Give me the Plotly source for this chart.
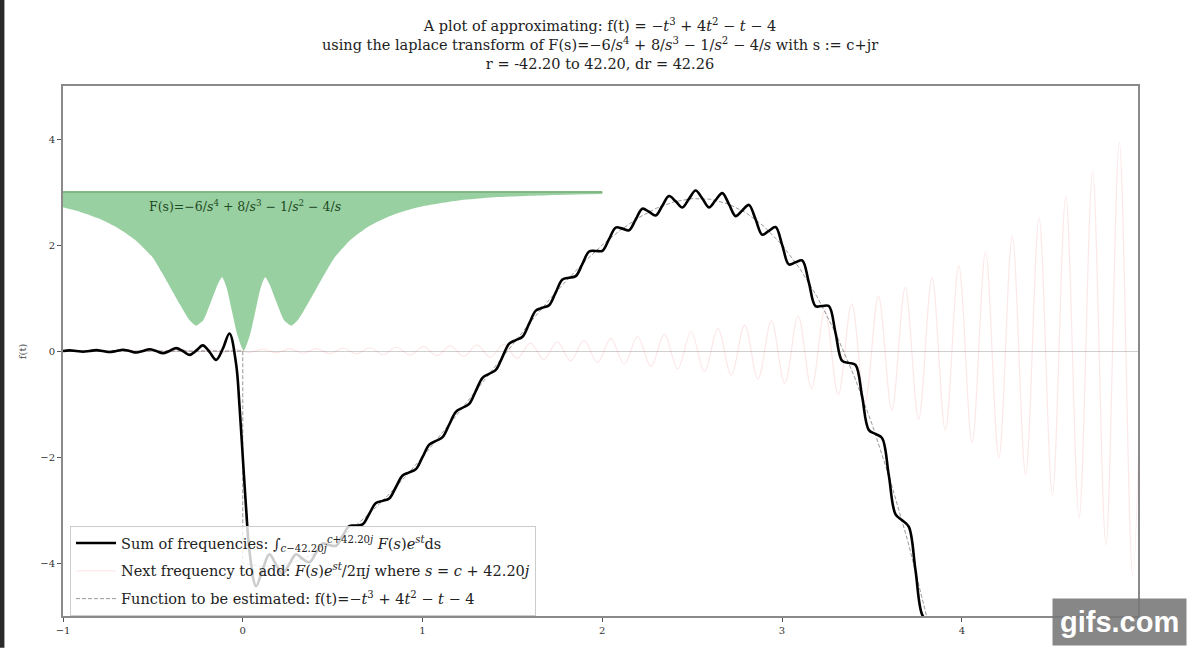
import plotly.graph_objects as go

# ---------------- data ----------------
# Sum of frequencies (black)
BLACK_T = [-1.0, -0.9632, -0.9262, -0.8891, -0.8521, -0.8150, -0.7780, -0.7409, -0.7039, -0.6668,
           -0.6298, -0.5928, -0.5557, -0.5187, -0.4816, -0.4446, -0.4075, -0.3705, -0.3334, -0.2964,
           -0.2593, -0.2223, -0.1852, -0.1482, -0.1111, -0.0741, -0.0370, -0.0185, 0.0, 0.0185,
           0.0370, 0.0741, 0.1111, 0.1482, 0.1852, 0.2223, 0.2593, 0.2964, 0.3334, 0.3705,
           0.4075, 0.4446, 0.4816, 0.5187, 0.5557, 0.5928, 0.6298, 0.6668, 0.7039, 0.7409,
           0.7780, 0.8150, 0.8521, 0.8891, 0.9262, 0.9632, 1.0003, 1.0373, 1.0744, 1.1114,
           1.1485, 1.1855, 1.2226, 1.2596, 1.2966, 1.3337, 1.3707, 1.4078, 1.4448, 1.4819,
           1.5189, 1.5560, 1.5930, 1.6301, 1.6671, 1.7042, 1.7412, 1.7783, 1.8153, 1.8524,
           1.8894, 1.9264, 1.9635, 2.0005, 2.0376, 2.0746, 2.1117, 2.1487, 2.1858, 2.2228,
           2.2599, 2.2969, 2.3340, 2.3710, 2.4081, 2.4451, 2.4821, 2.5192, 2.5562, 2.5933,
           2.6303, 2.6674, 2.7044, 2.7415, 2.7785, 2.8156, 2.8526, 2.8897, 2.9267, 2.9638,
           3.0008, 3.0379, 3.0749, 3.1119, 3.1490, 3.1860, 3.2231, 3.2601, 3.2972, 3.3342,
           3.3713, 3.4083, 3.4454, 3.4824, 3.5195, 3.5565, 3.5936, 3.6306, 3.6677, 3.7047,
           3.7417, 3.7788, 3.8158]
BLACK_Y = [0.0, 0.012, 0.0, -0.014, 0.0, 0.016, 0.0, -0.019, 0.0, 0.023,
           0.0, -0.028, 0.0, 0.034, 0.0, -0.043, 0.0, 0.055, 0.0, -0.074,
           0.007, 0.106, -0.016, -0.167, 0.042, 0.330, -0.246, -1.015, -2.0, -2.964,
           -3.767, -4.438, -4.116, -3.838, -4.031, -4.200, -4.018, -3.835, -3.924, -3.986,
           -3.808, -3.633, -3.661, -3.674, -3.485, -3.304, -3.294, -3.272, -3.070, -2.867,
           -2.828, -2.783, -2.566, -2.348, -2.290, -2.228, -1.999, -1.767, -1.697, -1.626,
           -1.387, -1.147, -1.071, -0.996, -0.752, -0.505, -0.430, -0.358, -0.110, 0.138,
           0.206, 0.269, 0.515, 0.762, 0.816, 0.865, 1.107, 1.349, 1.384, 1.412,
           1.645, 1.877, 1.888, 1.890, 2.110, 2.329, 2.309, 2.278, 2.482, 2.685,
           2.628, 2.557, 2.742, 2.924, 2.824, 2.708, 2.870, 3.029, 2.878, 2.710,
           2.846, 2.979, 2.772, 2.545, 2.652, 2.756, 2.485, 2.193, 2.267, 2.338,
           1.998, 1.633, 1.673, 1.710, 1.292, 0.847, 0.849, 0.849, 0.345, -0.187,
           -0.224, -0.263, -0.859, -1.489, -1.565, -1.644, -2.342, -3.077, -3.194, -3.314,
           -4.123, -4.971, -5.131]

# Next frequency to add (faint pink) - crests and troughs
PINK_T = [-1.005, -0.9306, -0.8561, -0.7817, -0.7072, -0.6328, -0.5583, -0.4839, -0.4094, -0.335,
          -0.2606, -0.1861, -0.1117, -0.0372, 0.0372, 0.1117, 0.1861, 0.2606, 0.335, 0.4094,
          0.4839, 0.5583, 0.6328, 0.7072, 0.7817, 0.8561, 0.9306, 1.005, 1.0794, 1.1539,
          1.2283, 1.3028, 1.3772, 1.4517, 1.5261, 1.6006, 1.675, 1.7494, 1.8239, 1.8983,
          1.9728, 2.0472, 2.1217, 2.1961, 2.2706, 2.345, 2.4194, 2.4939, 2.5683, 2.6428,
          2.7172, 2.7917, 2.8661, 2.9405, 3.015, 3.0894, 3.1639, 3.2383, 3.3128, 3.3872,
          3.4616, 3.5361, 3.6105, 3.685, 3.7594, 3.8339, 3.9083, 3.9828, 4.0572, 4.1317,
          4.2061, 4.2805, 4.355, 4.4294, 4.5039, 4.5783, 4.6528, 4.7272, 4.8016, 4.8761,
          4.9505, 5.025]
PINK_Y = [-0.011, 0.012, -0.013, 0.014, -0.015, 0.016, -0.017, 0.018, -0.020, 0.021,
          -0.023, 0.025, -0.027, 0.029, -0.031, 0.034, -0.036, 0.039, -0.042, 0.045,
          -0.049, 0.052, -0.056, 0.061, -0.066, 0.071, -0.076, 0.082, -0.088, 0.095,
          -0.102, 0.110, -0.119, 0.128, -0.138, 0.149, -0.160, 0.173, -0.186, 0.200,
          -0.216, 0.232, -0.250, 0.270, -0.291, 0.313, -0.337, 0.363, -0.391, 0.422,
          -0.454, 0.489, -0.527, 0.568, -0.612, 0.659, -0.710, 0.765, -0.824, 0.888,
          -0.956, 1.030, -1.110, 1.196, -1.288, 1.388, -1.495, 1.610, -1.735, 1.869,
          -2.013, 2.169, -2.337, 2.517, -2.712, 2.921, -3.147, 3.391, -3.653, 3.935,
          -4.239, 4.567]

# Function to be estimated (dashed)
FUNC_T = [-1.0, 0.0, 0.0, 0.1, 0.2, 0.3, 0.4, 0.5, 0.6, 0.7, 0.8, 0.9, 1.0, 1.1, 1.2, 1.3, 1.4,
          1.5, 1.6, 1.7, 1.8, 1.9, 2.0, 2.1, 2.2, 2.3, 2.4, 2.5, 2.6, 2.7, 2.8, 2.9, 3.0,
          3.1, 3.2, 3.3, 3.4, 3.5, 3.6, 3.7, 3.8, 3.85]
FUNC_Y = [0.0, 0.0, -4.0, -4.061, -4.048, -3.967, -3.824, -3.625, -3.376, -3.083, -2.752, -2.389,
          -2.0, -1.591, -1.168, -0.737, -0.304, 0.125, 0.544, 0.947, 1.328, 1.681, 2.0, 2.279,
          2.512, 2.693, 2.816, 2.875, 2.864, 2.777, 2.608, 2.351, 2.0, 1.549, 0.992, 0.323,
          -0.464, -1.375, -2.416, -3.593, -4.912, -5.627]

# Green |F(s)| inset: lower edge (upper edge is flat)
GREEN_T = [-1.0, -0.9, -0.8, -0.7, -0.6, -0.5, -0.45, -0.4, -0.35, -0.3, -0.26, -0.22, -0.18,
           -0.14, -0.115, -0.09, -0.06, -0.03, 0.005, 0.04, 0.07, 0.10, 0.125, 0.15, 0.19,
           0.23, 0.27, 0.31, 0.36, 0.41, 0.46, 0.51, 0.6, 0.7, 0.8, 0.9, 1.0, 1.2, 1.4, 1.6,
           1.8, 2.0]
GREEN_LOW = [2.71, 2.62, 2.50, 2.33, 2.10, 1.76, 1.48, 1.18, 0.88, 0.60, 0.48, 0.58, 0.90,
             1.25, 1.39, 1.20, 0.75, 0.30, 0.0, 0.30, 0.75, 1.20, 1.39, 1.25, 0.90,
             0.58, 0.48, 0.60, 0.88, 1.18, 1.48, 1.76, 2.10, 2.35, 2.52, 2.64, 2.73, 2.84, 2.90,
             2.93, 2.95, 2.96]
GREEN_TOP = 3.0

X_TICKS = [-1, 0, 1, 2, 3, 4]
Y_TICKS = [-4, -2, 0, 2, 4]

assert len(BLACK_T) == len(BLACK_Y)
assert len(PINK_T) == len(PINK_Y)
assert len(FUNC_T) == len(FUNC_Y)
assert len(GREEN_T) == len(GREEN_LOW)

SERIF = "DejaVu Serif"

TITLE = ("A plot of approximating: f(t) = \u2212<i>t</i><sup>3</sup> + 4<i>t</i><sup>2</sup> \u2212 <i>t</i> \u2212 4<br>"
         "using the laplace transform of F(s)=\u22126/<i>s</i><sup>4</sup> + 8/<i>s</i><sup>3</sup> \u2212 "
         "1/<i>s</i><sup>2</sup> \u2212 4/<i>s</i> with s := c+jr<br>"
         "r = -42.20 to 42.20, dr = 42.26")
LBL_SUM = ("Sum of frequencies: \u222b<sub><i>c</i>\u221242.20<i>j</i></sub><sup><i>c</i>+42.20<i>j</i></sup> "
           "<i>F</i>(<i>s</i>)<i>e</i><sup><i>st</i></sup>ds")
LBL_NEXT = ("Next frequency to add: <i>F</i>(<i>s</i>)<i>e</i><sup><i>st</i></sup>/2\u03c0<i>j</i> "
            "where <i>s</i> = <i>c</i> + 42.20<i>j</i>")
LBL_FUNC = ("Function to be estimated: f(t)=\u2212<i>t</i><sup>3</sup> + 4<i>t</i><sup>2</sup> \u2212 "
            "<i>t</i> \u2212 4")
F_TEXT = ("F(s)=\u22126/<i>s</i><sup>4</sup> + 8/<i>s</i><sup>3</sup> \u2212 1/<i>s</i><sup>2</sup> "
          "\u2212 4/<i>s</i>")

fig = go.Figure()

# green inset
fig.add_trace(go.Scatter(x=GREEN_T, y=[GREEN_TOP] * len(GREEN_T), mode="lines",
                         line=dict(color="rgba(125,180,128,0.95)", width=2),
                         showlegend=False, hoverinfo="skip"))
fig.add_trace(go.Scatter(x=GREEN_T, y=GREEN_LOW, mode="lines", fill="tonexty",
                         fillcolor="rgba(60,165,75,0.52)",
                         line=dict(color="rgba(60,165,75,0.0)", width=0, shape="spline", smoothing=0.6),
                         showlegend=False, hoverinfo="skip"))

# faint next-frequency curve
fig.add_trace(go.Scatter(x=PINK_T, y=PINK_Y, mode="lines", name=LBL_NEXT, legendgroup="b",
                         legendrank=2,
                         line=dict(color="rgba(235,80,80,0.13)", width=1.2, shape="spline", smoothing=1.0)))
# dashed function
fig.add_trace(go.Scatter(x=FUNC_T, y=FUNC_Y, mode="lines", name=LBL_FUNC, legendgroup="c",
                         legendrank=3,
                         line=dict(color="rgba(110,110,110,0.7)", width=1, dash="4px,2px")))
# black sum
fig.add_trace(go.Scatter(x=BLACK_T, y=BLACK_Y, mode="lines", name=LBL_SUM, legendgroup="a",
                         legendrank=1,
                         line=dict(color="black", width=2.6, shape="spline", smoothing=1.0)))

fig.add_annotation(x=0.01, y=2.73, xref="x", yref="y", text=F_TEXT, showarrow=False,
                   font=dict(family=SERIF, size=12.5, color="#1d4a22"))

# y-axis label
fig.add_annotation(x=-0.038, y=0.5, xref="paper", yref="paper", text="f(t)", textangle=-90,
                   xanchor="center", yanchor="middle",
                   showarrow=False, font=dict(family=SERIF, size=10, color="#444"))

# dark frame strip at left edge of picture
fig.add_shape(type="rect", xref="paper", yref="paper", x0=-0.0590, x1=-0.0545, y0=-0.06, y1=1.17,
              fillcolor="#2a2a2a", line=dict(width=0), layer="above")

# watermark
fig.add_annotation(x=0.983, y=-0.056, xref="paper", yref="paper", text="<b>gifs.com</b>",
                   showarrow=False, xanchor="center", yanchor="bottom",
                   font=dict(family="Liberation Sans", size=29, color="white"),
                   bgcolor="rgba(118,118,118,0.88)", borderpad=7)

axis_common = dict(showgrid=False, ticks="outside", ticklen=4, tickwidth=1, tickcolor="#555",
                   showline=True, linecolor="#8a8a8a", linewidth=2, mirror=True,
                   tickfont=dict(family=SERIF, size=10, color="#333"))

fig.update_xaxes(range=[-1, 4.98], tickvals=X_TICKS, zeroline=False, **axis_common)
fig.update_yaxes(range=[-5, 5], tickvals=Y_TICKS, zeroline=True, zerolinecolor="#cfcfcf",
                 zerolinewidth=1.2, **axis_common)

fig.update_layout(
    width=1200, height=648,
    margin=dict(l=63, r=62, t=86, b=25),
    paper_bgcolor="white", plot_bgcolor="white",
    font=dict(family=SERIF, color="#222"),
    title=dict(text=TITLE, x=0.5, xanchor="center", y=1 - 31 / 648, yanchor="top",
               yref="container", font=dict(family=SERIF, size=14.5, color="#222")),
    legend=dict(x=0.0065, y=0.0, xanchor="left", yanchor="bottom",
                bgcolor="rgba(255,255,255,0.8)", bordercolor="#cccccc", borderwidth=1,
                font=dict(family=SERIF, size=14.5, color="#222"), tracegroupgap=6,
                itemwidth=40, traceorder="grouped"),
    showlegend=True,
)

fig.write_html("out.html")
